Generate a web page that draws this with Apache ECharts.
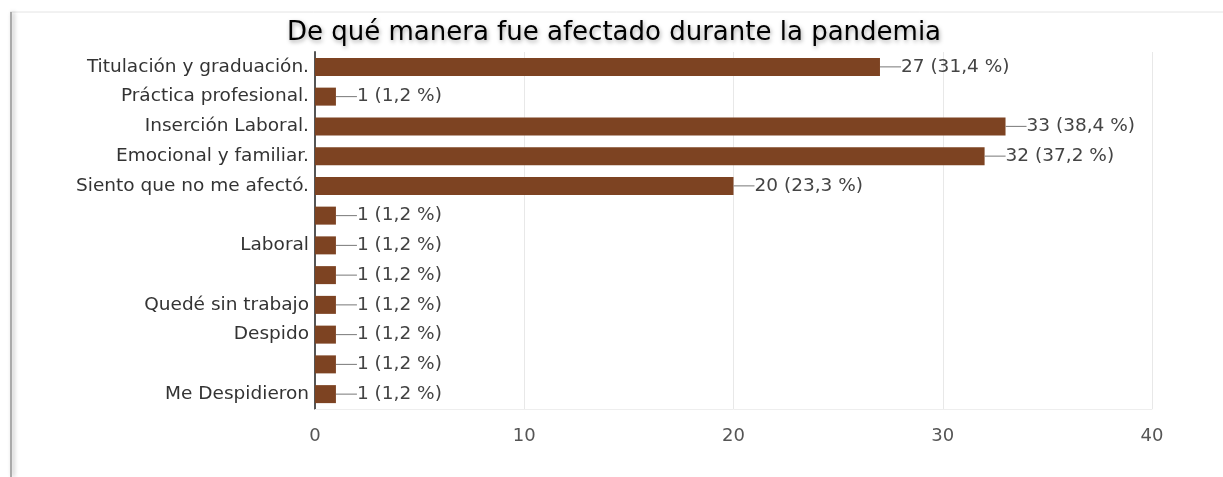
<!DOCTYPE html>
<html><head><meta charset="utf-8">
<script src="https://cdn.jsdelivr.net/npm/echarts@6/dist/echarts.min.js"></script>
<style>html,body{margin:0;padding:0;background:#fff}#c{width:1223px;height:477px}</style>
</head><body><div id="c"></div>
<script>
const categories = ["Titulación y graduación.", "Práctica profesional.", "Inserción Laboral.", "Emocional y familiar.", "Siento que no me afectó.", " ", "Laboral", "  ", "Quedé sin trabajo", "Despido", "   ", "Me Despidieron"];
const counts = [27, 1, 33, 32, 20, 1, 1, 1, 1, 1, 1, 1];
const percents = ["31,4", "1,2", "38,4", "37,2", "23,3", "1,2", "1,2", "1,2", "1,2", "1,2", "1,2", "1,2"];
const xTicks = [0, 10, 20, 30, 40];

const FONT = 'DejaVu Sans';
const chart = echarts.init(document.getElementById('c'));
chart.setOption({
  backgroundColor: '#fff',
  animation: false,
  title: {
    text: 'De qué manera fue afectado durante la pandemia',
    left: 609, textAlign: 'center', top: 15,
    textStyle: { fontFamily: FONT, fontSize: 26, fontWeight: 'normal', color: '#000',
      textShadowColor: 'rgba(0,0,0,0.35)', textShadowBlur: 4, textShadowOffsetX: 1, textShadowOffsetY: 2 }
  },
  graphic: [
    { type: 'line', shape: { x1: 10, y1: 12, x2: 1223, y2: 12 }, style: { stroke: '#e4e4e4', lineWidth: 1 }, z: 100 },
    { type: 'line', shape: { x1: 11, y1: 12, x2: 11, y2: 477 }, style: { stroke: '#aaa', lineWidth: 2, shadowColor: 'rgba(0,0,0,0.3)', shadowBlur: 4, shadowOffsetX: 2 }, z: 100 }
  ],
  grid: { left: 315, right: 71, top: 52, bottom: 68, containLabel: false },
  xAxis: {
    type: 'value', min: xTicks[0], max: xTicks[xTicks.length - 1], interval: 10,
    axisLine: { show: true, lineStyle: { color: '#eee' } },
    axisTick: { show: false },
    splitLine: { show: true, lineStyle: { color: '#e8e8e8' } },
    axisLabel: { margin: 18, fontFamily: FONT, fontSize: 18, color: '#555' }
  },
  yAxis: {
    type: 'category', data: categories, inverse: true,
    axisLine: { show: true, lineStyle: { color: '#555', width: 2 } },
    axisTick: { show: false },
    axisLabel: { margin: 6, fontFamily: FONT, fontSize: 18.5, color: '#333' }
  },
  series: [{
    type: 'bar',
    data: counts,
    barWidth: 18,
    itemStyle: { color: '#7d4322' },
    label: {
      show: true, position: 'right', distance: 0,
      formatter: p => '{ln|}{t|' + counts[p.dataIndex] + ' (' + percents[p.dataIndex] + ' %)}',
      rich: {
        ln: { width: 21, height: 1, backgroundColor: '#777' },
        t: { fontFamily: FONT, fontSize: 18.5, color: '#444' }
      }
    }
  }]
});
</script></body></html>
